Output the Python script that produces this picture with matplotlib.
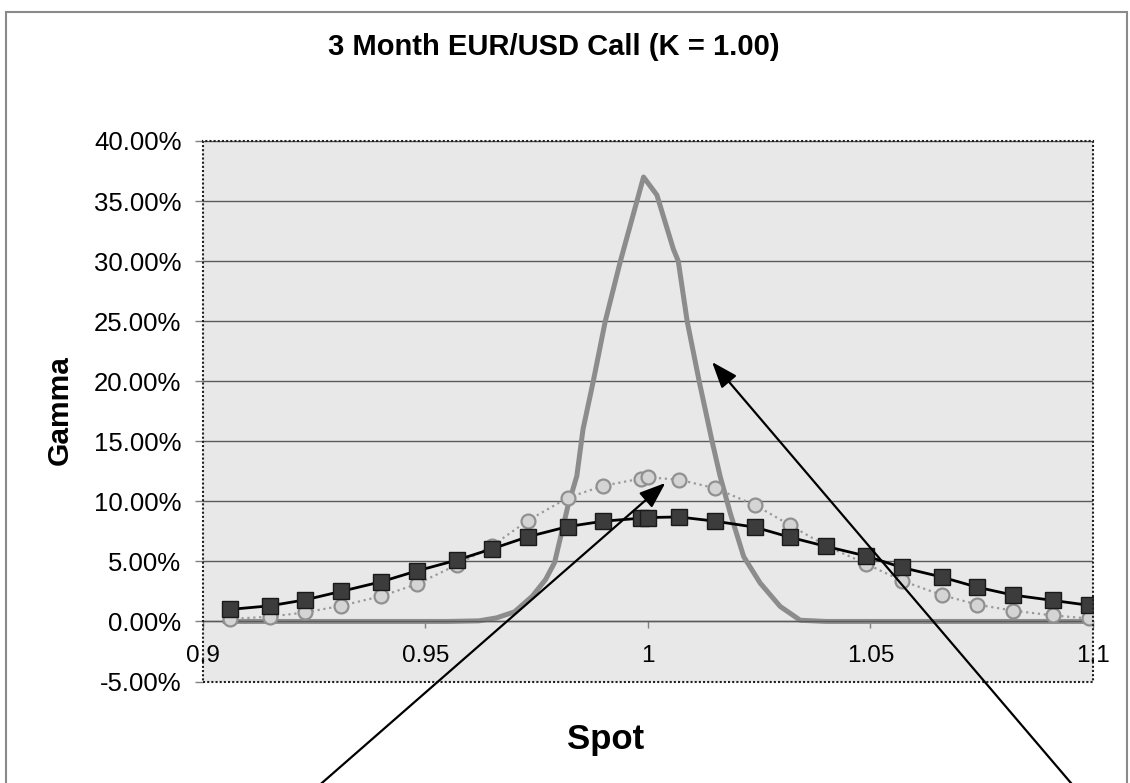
import numpy as np
import matplotlib
matplotlib.use("Agg")
import matplotlib.pyplot as plt
from matplotlib.patches import Rectangle

plt.rcParams['font.family'] = ['Liberation Sans', 'DejaVu Sans']

#Spot grid used by the two marker series
spot = [0.906, 0.915, 0.923, 0.931, 0.940, 0.948, 0.957, 0.965, 0.973, 0.982, 0.990,
        0.9985, 1.000, 1.007, 1.015, 1.024, 1.032, 1.040, 1.049, 1.057, 1.066, 1.074,
        1.082, 1.091, 1.099]
#Gamma (in %)
gamma_squares = [1.0, 1.3, 1.8, 2.5, 3.3, 4.2, 5.1, 6.05, 7.05, 7.9, 8.35,
                 8.6, 8.65, 8.7, 8.35, 7.85, 7.0, 6.25, 5.45, 4.5, 3.7, 2.85,
                 2.2, 1.75, 1.35]
gamma_circles = [0.2, 0.4, 0.75, 1.3, 2.1, 3.1, 4.7, 6.3, 8.4, 10.3, 11.3,
                 11.9, 12.0, 11.8, 11.1, 9.7, 8.0, 6.3, 4.8, 3.4, 2.2, 1.4,
                 0.9, 0.5, 0.25]

#Short dated spike
spike_spot = [0.905, 0.955, 0.962, 0.966, 0.970, 0.974, 0.977, 0.979, 0.982, 0.984,
              0.9854, 0.9877, 0.9904, 0.9938, 0.999, 1.002, 1.0057, 1.0068, 1.0088,
              1.0115, 1.0144, 1.0162, 1.0185, 1.0215, 1.0252, 1.0297, 1.0342, 1.040, 1.100]
spike_gamma = [0.0, 0.0, 0.05, 0.3, 0.8, 2.1, 3.5, 4.9, 9.6, 12.1,
               16.0, 20.0, 25.0, 30.0, 37.0, 35.5, 31.0, 30.0, 25.0,
               20.0, 15.0, 12.1, 9.0, 5.4, 3.2, 1.25, 0.1, 0.0, 0.0]

y_ticks = [-5, 0, 5, 10, 15, 20, 25, 30, 35, 40]
x_ticks = [0.9, 0.95, 1.0, 1.05, 1.1]
x_tick_labels = ["0.9", "0.95", "1", "1.05", "1.1"]

#Arrow tips (data coords) and tails (figure pixels)
arrow_tips = [(1.0039, 11.53), (1.0144, 21.6)]
arrow_tails = [(299, -20), (1088, -20)]

W, H = 1130, 783
fig = plt.figure(figsize=(W / 100, H / 100), dpi=100)
fig.patch.set_facecolor('white')

#outer chart border
fig.add_artist(Rectangle((6 / W, -0.05), 1121 / W, (H - 12) / H + 0.05,
                         transform=fig.transFigure, fill=False,
                         ec='#8a8a8a', lw=1.5))

ax = fig.add_axes([203 / W, (H - 681.5) / H, 890 / W, 540.5 / H])
ax.set_facecolor('#e8e8e8')

ax.set_xlim(0.9, 1.1)
ax.set_ylim(-5, 40)

#horizontal gridlines
for v in y_ticks:
    if v != -5:
        ax.axhline(v, color='#5a5a5a', lw=1.0, zorder=1)

ax.plot(spike_spot, spike_gamma, color='#8c8c8c', lw=3.6, zorder=2,
        solid_joinstyle='round')
ax.plot(spot, gamma_circles, color='#9a9a9a', lw=1.6, ls=':', marker='o',
        ms=10, mfc='#d4d4d4', mec='#909090', mew=1.6, zorder=3)
ax.plot(spot, gamma_squares, color='black', lw=2.0, marker='s',
        ms=12, mfc='#3c3c3c', mec='#1a1a1a', mew=1.0, zorder=4)

#axis crossing at zero, dotted frame around the plot area
for side in ['top', 'right', 'left']:
    ax.spines[side].set_visible(False)
ax.spines['bottom'].set_position(('data', 0))
ax.spines['bottom'].set_color('#5a5a5a')
ax.spines['bottom'].set_linewidth(1.0)
ax.add_patch(Rectangle((0, 0), 1, 1, transform=ax.transAxes, fill=False,
                       ec='#202020', lw=1.5, ls=(0, (1, 1)), zorder=6,
                       clip_on=False))

ax.set_xticks(x_ticks)
ax.set_xticklabels(x_tick_labels)
ax.set_yticks(y_ticks)
ax.set_yticklabels([f"{v:.2f}%" for v in y_ticks])
ax.tick_params(axis='x', direction='out', length=5, width=1, color='#808080',
               labelsize=17.5, pad=12)
ax.tick_params(axis='y', direction='out', length=5.5, width=1, color='#808080',
               labelsize=18.5, pad=10)

fig.text(553.5 / W, 1 - 47 / H, "3 Month EUR/USD Call (K = 1.00)",
         ha='center', va='center', fontsize=21, fontweight='bold')
fig.text(606 / W, 1 - 740 / H, "Spot", ha='center', va='center',
         fontsize=25, fontweight='bold')
fig.text(60 / W, 1 - 410 / H, "Gamma", ha='center', va='center',
         fontsize=21.5, fontweight='bold', rotation=90)

for tip, tail in zip(arrow_tips, arrow_tails):
    ax.annotate('', xy=tip, xycoords='data', xytext=tail,
                textcoords='figure pixels', annotation_clip=False,
                arrowprops=dict(arrowstyle='-|>,head_length=0.8,head_width=0.3',
                                mutation_scale=20, lw=1.6, color='black',
                                shrinkA=0, shrinkB=0), zorder=7)

fig.savefig('out.png', dpi=100)
